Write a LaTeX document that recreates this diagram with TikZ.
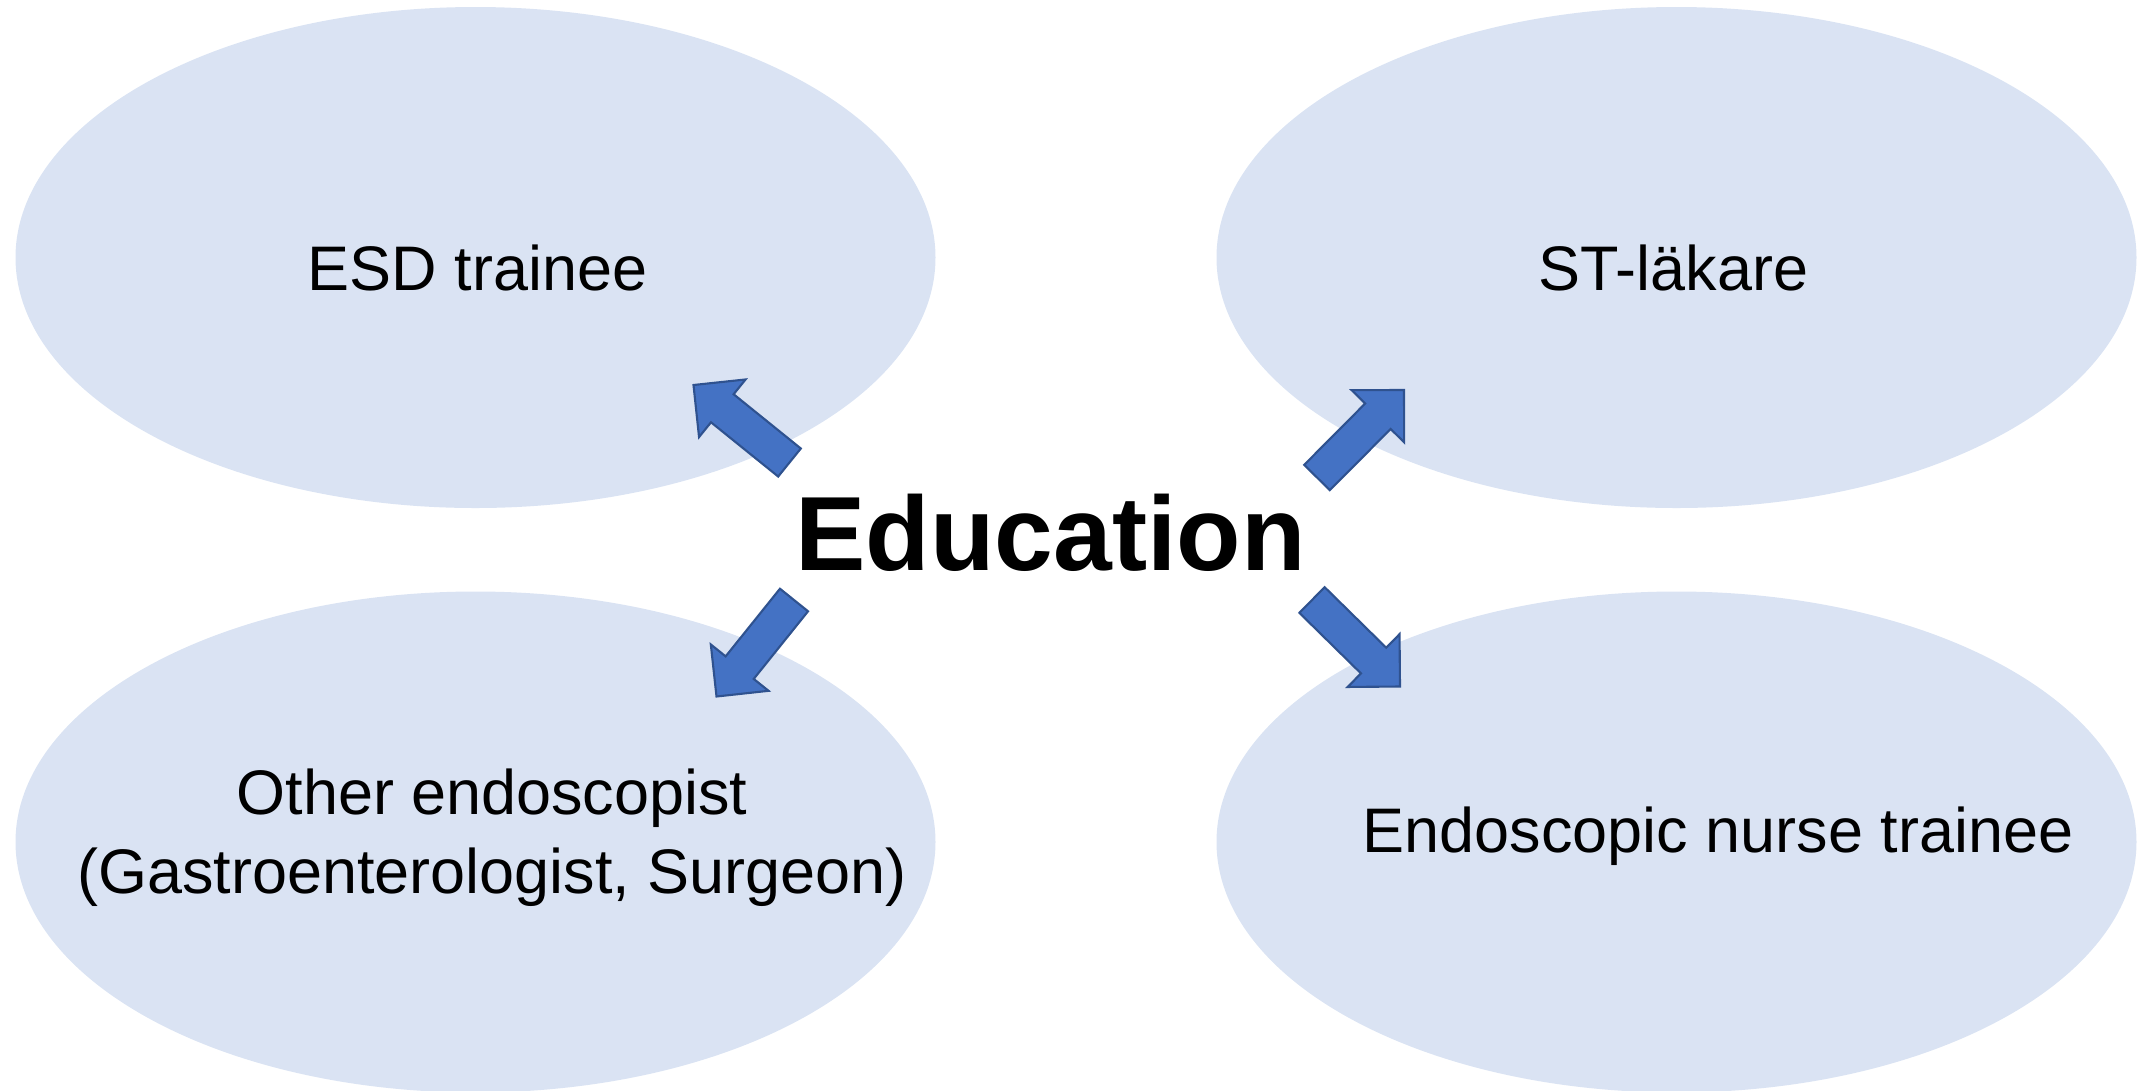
\documentclass[tikz,border=0pt]{standalone}
\usepackage{fontspec}
\setmainfont{Liberation Sans}
\usepackage{tikz}
\usetikzlibrary{calc}
\tikzset{>=latex}
\definecolor{mylightblue}{RGB}{218, 227, 243}
\definecolor{myblue}{RGB}{68, 114, 196}
\definecolor{mydarkblue}{RGB}{47, 82, 143}
\newcommand{\blockarrow}[2]{%
\draw[fill = myblue, draw = mydarkblue, line width = 0.6pt, line join = miter]
 ($(#1)!0.18cm!90:(#2)$) -- ($($(#2)!0.37cm!(#1)$)!0.18cm!90:(#2)$)
 -- ($($(#2)!0.37cm!(#1)$)!0.37cm!90:(#2)$) -- (#2)
 -- ($($(#2)!0.37cm!(#1)$)!0.37cm!-90:(#2)$) -- ($($(#2)!0.37cm!(#1)$)!0.18cm!-90:(#2)$)
 -- ($(#1)!0.18cm!-90:(#2)$) -- cycle;}

\begin{document}
\begin{tikzpicture}[x = 0.01cm, y = -0.01cm, font = \fontsize{17.9}{22.4}\selectfont]
\useasboundingbox (0,0) rectangle (2141,1090);
\fill[mylightblue] (475.5, 257.5) ellipse [x radius = 460, y radius = 250.5];
\fill[mylightblue] (1676.5, 257.5) ellipse [x radius = 460, y radius = 250.5];
\fill[mylightblue] (475.5, 842) ellipse [x radius = 460, y radius = 250.5];
\fill[mylightblue] (1676.5, 842) ellipse [x radius = 460, y radius = 250.5];
% arrows out of the centre
\coordinate (esd-tail) at (789.5, 462.5);
\coordinate (esd-tip) at (693.5, 385);
\coordinate (st-tail) at (1317, 477.5);
\coordinate (st-tip) at (1404, 390);
\coordinate (other-tail) at (794, 600);
\coordinate (other-tip) at (716.5, 696.5);
\coordinate (nurse-tail) at (1312, 600);
\coordinate (nurse-tip) at (1400, 686.5);
\blockarrow{esd-tail}{esd-tip}
\blockarrow{st-tail}{st-tip}
\blockarrow{other-tail}{other-tip}
\blockarrow{nurse-tail}{nurse-tip}
% texts
\node[anchor = base, inner sep = 0, font = \fontsize{30}{36}\selectfont\bfseries] (edu) at (1050.5, 570) {Education};
\node[anchor = base, inner sep = 0] (esd) at (477.5, 290) {ESD trainee};
\node[anchor = base, inner sep = 0] (st) at (1673.5, 290) {ST-läkare};
\node[align = center, inner sep = 0] (other) at (492, 838) {Other endoscopist\\ (Gastroenterologist, Surgeon)};
\node[anchor = base, inner sep = 0] (nurse) at (1718, 852) {Endoscopic nurse trainee};
\end{tikzpicture}
\end{document}
